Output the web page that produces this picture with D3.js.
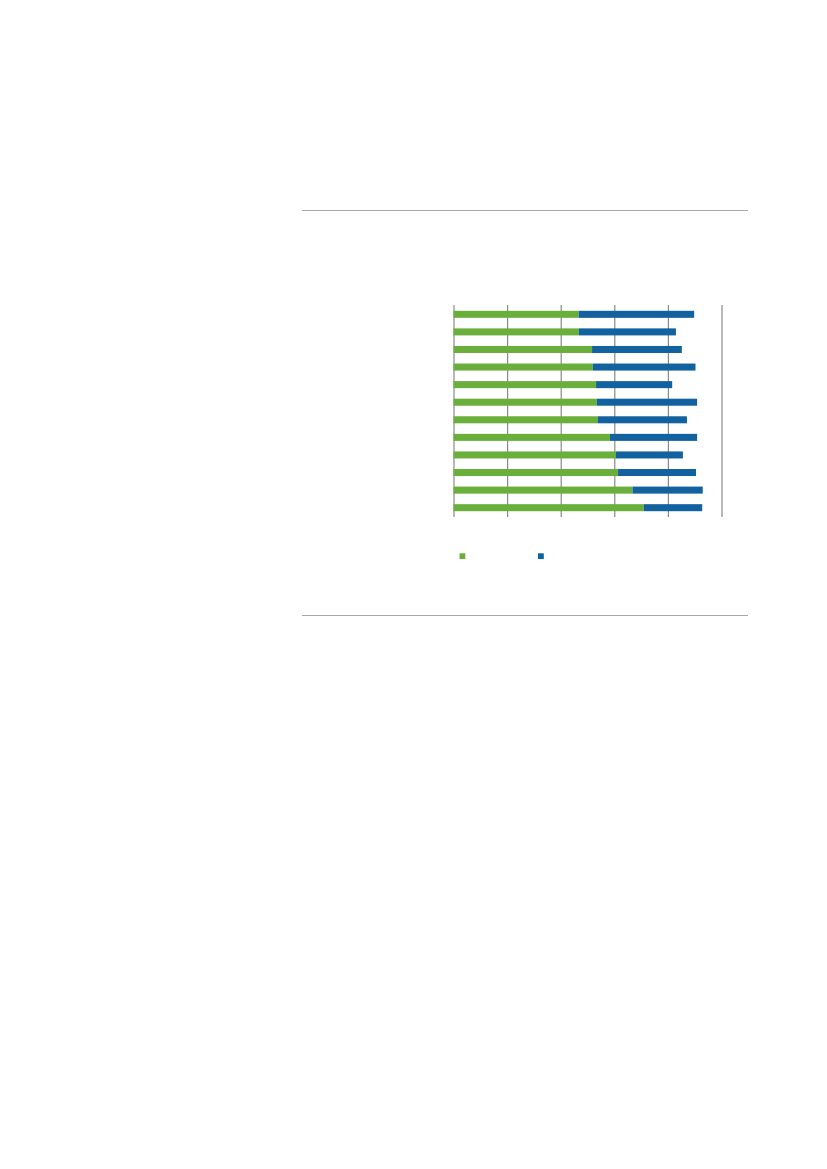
<!DOCTYPE html>
<meta charset="utf-8">
<style>
body { margin: 0; background: #fff; }
svg { display: block; }
</style>
<body>
<div id="box1"></div>
</body>
<script src="https://d3js.org/d3.v7.min.js"></script>
<script>

// twelve rows, top to bottom (no labels are shown in the picture)
var categories = ["r1", "r2", "r3", "r4", "r5", "r6", "r7", "r8", "r9", "r10", "r11", "r12"];
var greenValues = [46.7, 46.8, 51.7, 52.0, 53.2, 53.5, 53.9, 58.4, 60.6, 61.4, 66.8, 71.0];
var blueValues  = [43.1, 36.2, 33.5, 38.3, 28.4, 37.4, 33.2, 32.5, 25.0, 29.1, 26.2, 21.8];
var xTicks = [0, 20, 40, 60, 80, 100];
var keys = ["green", "blue"];

var width = 827, height = 1169;

data = categories.map((c, i) => ({cat: c, green: greenValues[i], blue: blueValues[i]}));

chartData = d3.stack().keys(keys)(data);

colors = d3.scaleOrdinal()
  .domain(keys)
  .range(["#6aaf3b", "#1262a0"]);

xScale = d3.scaleLinear([0, 100], [453.5, 721.5]);

yScale = d3.scaleBand(categories, [305, 517])
  .paddingInner(0.6)
  .paddingOuter(0.33);

var svg = d3.select("#box1").append("svg")
  .attr("width", width)
  .attr("height", height);

// horizontal rules around the figure
svg.selectAll("line.rule")
  .data([210.5, 615.5])
  .join("line")
    .attr("class", "rule")
    .attr("x1", 302).attr("x2", 748)
    .attr("y1", d => d).attr("y2", d => d)
    .attr("stroke", "#a8a8a8")
    .attr("stroke-width", 1.2);

// vertical gridlines from the axis, no tick text
var xAxis = d3.axisBottom(xScale)
  .tickValues(xTicks)
  .tickSize(-(517 - 305))
  .tickFormat("");

var gx = svg.append("g")
  .attr("transform", "translate(0,517)")
  .call(xAxis);
gx.select(".domain").remove();
gx.selectAll(".tick line")
  .attr("stroke", "#8a8a8a")
  .attr("stroke-width", 1.2);

var groups = svg.append("g")
  .selectAll("g")
  .data(chartData)
  .join("g")
    .style("fill", d => colors(d.key));

groups.selectAll("rect")
  .data(d => d)
  .join("rect")
    .attr("x", d => xScale(d[0]))
    .attr("y", d => yScale(d.data.cat))
    .attr("width", d => xScale(d[1]) - xScale(d[0]))
    .attr("height", yScale.bandwidth());

// legend markers (labels are not shown)
var legendX = d3.scaleOrdinal().domain(keys).range([459.5, 538]);
svg.selectAll("rect.legend")
  .data(keys)
  .join("rect")
    .attr("class", "legend")
    .attr("x", d => legendX(d))
    .attr("y", 553.3)
    .attr("width", 5.8)
    .attr("height", 5.8)
    .style("fill", d => colors(d));

</script>
